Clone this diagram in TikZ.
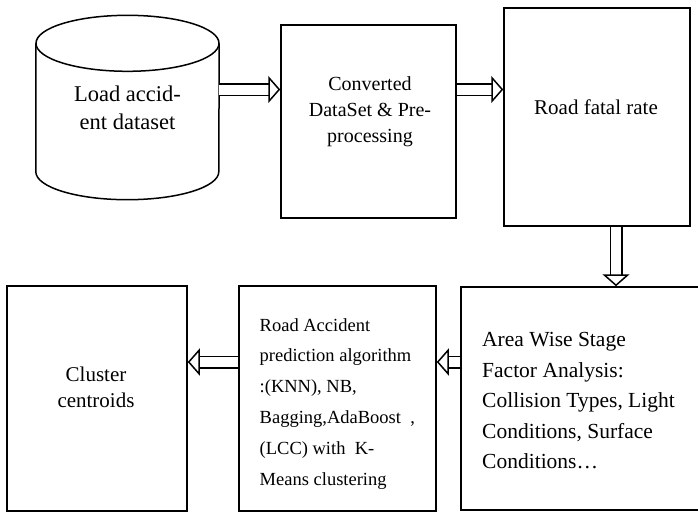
\documentclass[tikz,border=0pt]{standalone}
\usepackage{fontspec}
\setmainfont{Liberation Serif}
\usetikzlibrary{arrows.meta}

\tikzset{
	box/.style={draw, line width=1.5pt, inner sep=0pt},
	txt/.style={inner sep=0pt},
	flow/.style={double, double distance=10pt, line width=1.5pt, -{Triangle[open,length=12pt,width=27pt]}},
}

\begin{document}
\begin{tikzpicture}[x=1pt,y=-1pt]
	\useasboundingbox (0,0) rectangle (698,512);

	%Data Source Cylinder
	\node[txt, minimum width=183pt, minimum height=128pt, align=center, font=\fontsize{22.5}{28}\selectfont] (load) at (127.5,107.5) {Load accid-\\ent dataset};
	\draw[line width=1.5pt] (load.north west) -- (load.south west) arc[start angle=180, end angle=360, x radius=91.5pt, y radius=28pt] -- (load.north east);
	\draw[line width=1.5pt] (load.north) ellipse [x radius=91.5pt, y radius=28pt];

	%Top Row
	\node[box, minimum width=175pt, minimum height=193pt] (conv) at (368.5,121.5) {};
	\node[txt, align=center, font=\fontsize{20}{26}\selectfont] (convtext) at (370,111.5) {Converted\\DataSet \& Pre-\\processing};
	\node[box, minimum width=186pt, minimum height=218pt] (fatal) at (597,117) {};
	\node[txt, font=\fontsize{21}{26}\selectfont] (fataltext) at (596,107) {Road fatal rate};

	%Bottom Row
	\node[box, minimum width=259pt, minimum height=223pt] (factor) at (590.5,398.5) {};
	\node[txt, anchor=west, align=left, font=\fontsize{21.5}{30.5}\selectfont] (factortext) at (482,400.8) {Area Wise Stage\\Factor Analysis:\\Collision Types, Light\\Conditions, Surface\\Conditions…};
	\node[box, minimum width=197pt, minimum height=225pt] (algo) at (337.5,398.5) {};
	\node[txt, anchor=west, align=left, font=\fontsize{18.5}{30.8}\selectfont] (algotext) at (259.5,403.7) {Road Accident\\prediction algorithm\\:(KNN), NB,\\Bagging,AdaBoost\ \ ,\\(LCC) with\ \ K-\\Means clustering};
	\node[box, minimum width=180pt, minimum height=225pt] (cluster) at (97,398.5) {};
	\node[txt, align=center, font=\fontsize{21}{25.6}\selectfont] (clustertext) at (96,387.4) {Cluster\\centroids};

	%Flow Arrows
	\draw[flow] ([yshift=32pt]conv.west -| load.east) -- ([yshift=32pt]conv.west);
	\draw[flow] ([yshift=32pt]conv.east) -- ([yshift=32pt]conv.east -| fatal.west);
	\draw[flow] ([xshift=19pt]fatal.south) -- ([xshift=19pt]fatal.south |- factor.north);
	\draw[flow] ([yshift=36.5pt]factor.west) -- ([yshift=36.5pt]factor.west -| algo.east);
	\draw[flow] ([yshift=36.5pt]algo.west) -- ([yshift=36.5pt]algo.west -| cluster.east);

\end{tikzpicture}
\end{document}
